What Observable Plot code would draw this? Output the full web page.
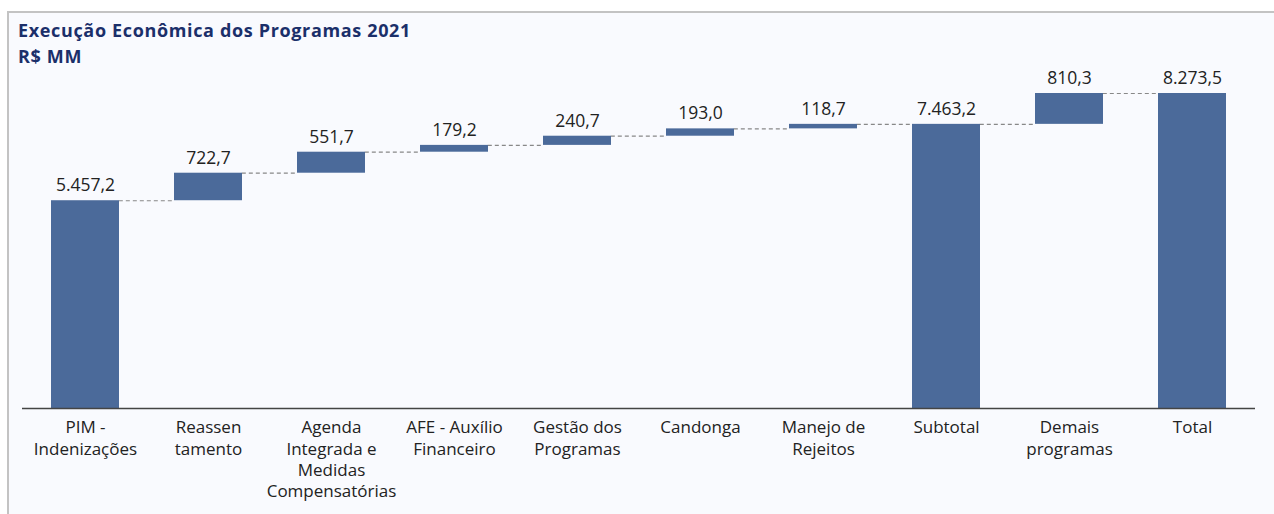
<!DOCTYPE html>
<html>
<head>
<meta charset="utf-8">
<script src="https://cdn.jsdelivr.net/npm/d3@7"></script>
<script src="https://cdn.jsdelivr.net/npm/@observablehq/plot@0.6"></script>
<style>
  html, body { margin: 0; padding: 0; background: #ffffff; width: 1274px; height: 514px; overflow: hidden; }
  #frame { position: absolute; left: 7px; top: 11px; right: 0; bottom: 0; background: #f9fafe;
           border-top: 2px solid #c3c3c3; border-left: 2px solid #c3c3c3; }
  #title { position: absolute; left: 18px; top: 17px; font-family: "Open Sans", sans-serif; font-weight: bold;
           font-size: 18px; line-height: 26px; color: #1b2f6a; letter-spacing: 0.65px; }
  #chart { position: absolute; left: 0; top: 0; }
</style>
</head>
<body>
<div id="frame"></div>
<div id="title">Execução Econômica dos Programas 2021<br>R$ MM</div>
<div id="chart"></div>
<script>
const categories = ["PIM", "Reassentamento", "Agenda", "AFE", "Gestao", "Candonga", "Manejo", "Subtotal", "Demais", "Total"];
const tickLabels = ["PIM -\nIndenizações", "Reassen\ntamento", "Agenda\nIntegrada e\nMedidas\nCompensatórias", "AFE - Auxílio\nFinanceiro", "Gestão dos\nProgramas", "Candonga", "Manejo de\nRejeitos", "Subtotal", "Demais\nprogramas", "Total"];
const values = [5457.2, 722.7, 551.7, 179.2, 240.7, 193.0, 118.7, 7463.2, 810.3, 8273.5];
const isTotal = [false, false, false, false, false, false, false, true, false, true];

// waterfall table
let run = 0;
const rows = categories.map((c, i) => {
  let y1, y2;
  if (isTotal[i]) { y1 = 0; y2 = values[i]; run = values[i]; }
  else if (i === 0) { y1 = 0; y2 = values[i]; run = values[i]; }
  else { y1 = run; y2 = run + values[i]; run = y2; }
  return {cat: c, y1, y2, v: values[i], label: values[i].toLocaleString("pt-BR", {minimumFractionDigits: 1, maximumFractionDigits: 1})};
});
const connectors = rows.slice(0, -1).map((r, i) => ({a: r.cat, b: rows[i + 1].cat, y: r.y2}));

const W = 1274, H = 514;
const marginLeft = 22, marginRight = 19, marginTop = 93, marginBottom = 106;
const xScaleOpts = {type: "band", domain: categories, range: [marginLeft, W - marginRight], paddingInner: 0.45, paddingOuter: 0.225};
const bw = Plot.scale({x: xScaleOpts}).bandwidth;
const labelMap = new Map(categories.map((c, i) => [c, tickLabels[i]]));

const chart = Plot.plot({
  width: W, height: H,
  marginLeft, marginRight, marginTop, marginBottom,
  style: {fontFamily: "'Open Sans', sans-serif", fontSize: "17px", color: "#222", background: "transparent", overflow: "visible"},
  x: {domain: categories, paddingInner: 0.45, paddingOuter: 0.225, label: null, tickSize: 0, tickPadding: 11, tickFormat: d => labelMap.get(d)},
  y: {domain: [0, 8273.5], axis: null},
  marks: [
    Plot.ruleY(connectors, {x1: "a", x2: "b", y: "y", insetLeft: bw, insetRight: bw, stroke: "#888", strokeWidth: 1.2, strokeDasharray: "4,3"}),
    Plot.barY(rows, {x: "cat", y1: "y1", y2: "y2", fill: "#4b6a9a"}),
    Plot.text(rows, {x: "cat", y: "y2", text: "label", dy: -15, fill: "#222", fontSize: 17.5}),
    Plot.ruleY([0], {stroke: "#444", strokeWidth: 1.3}),
    Plot.axisX({tickSize: 0, tickPadding: 10, lineHeight: 1.24, tickFormat: d => labelMap.get(d), fill: "#222", fontSize: 17, label: null})
  ]
});
document.getElementById("chart").appendChild(chart);
</script>
</body>
</html>
